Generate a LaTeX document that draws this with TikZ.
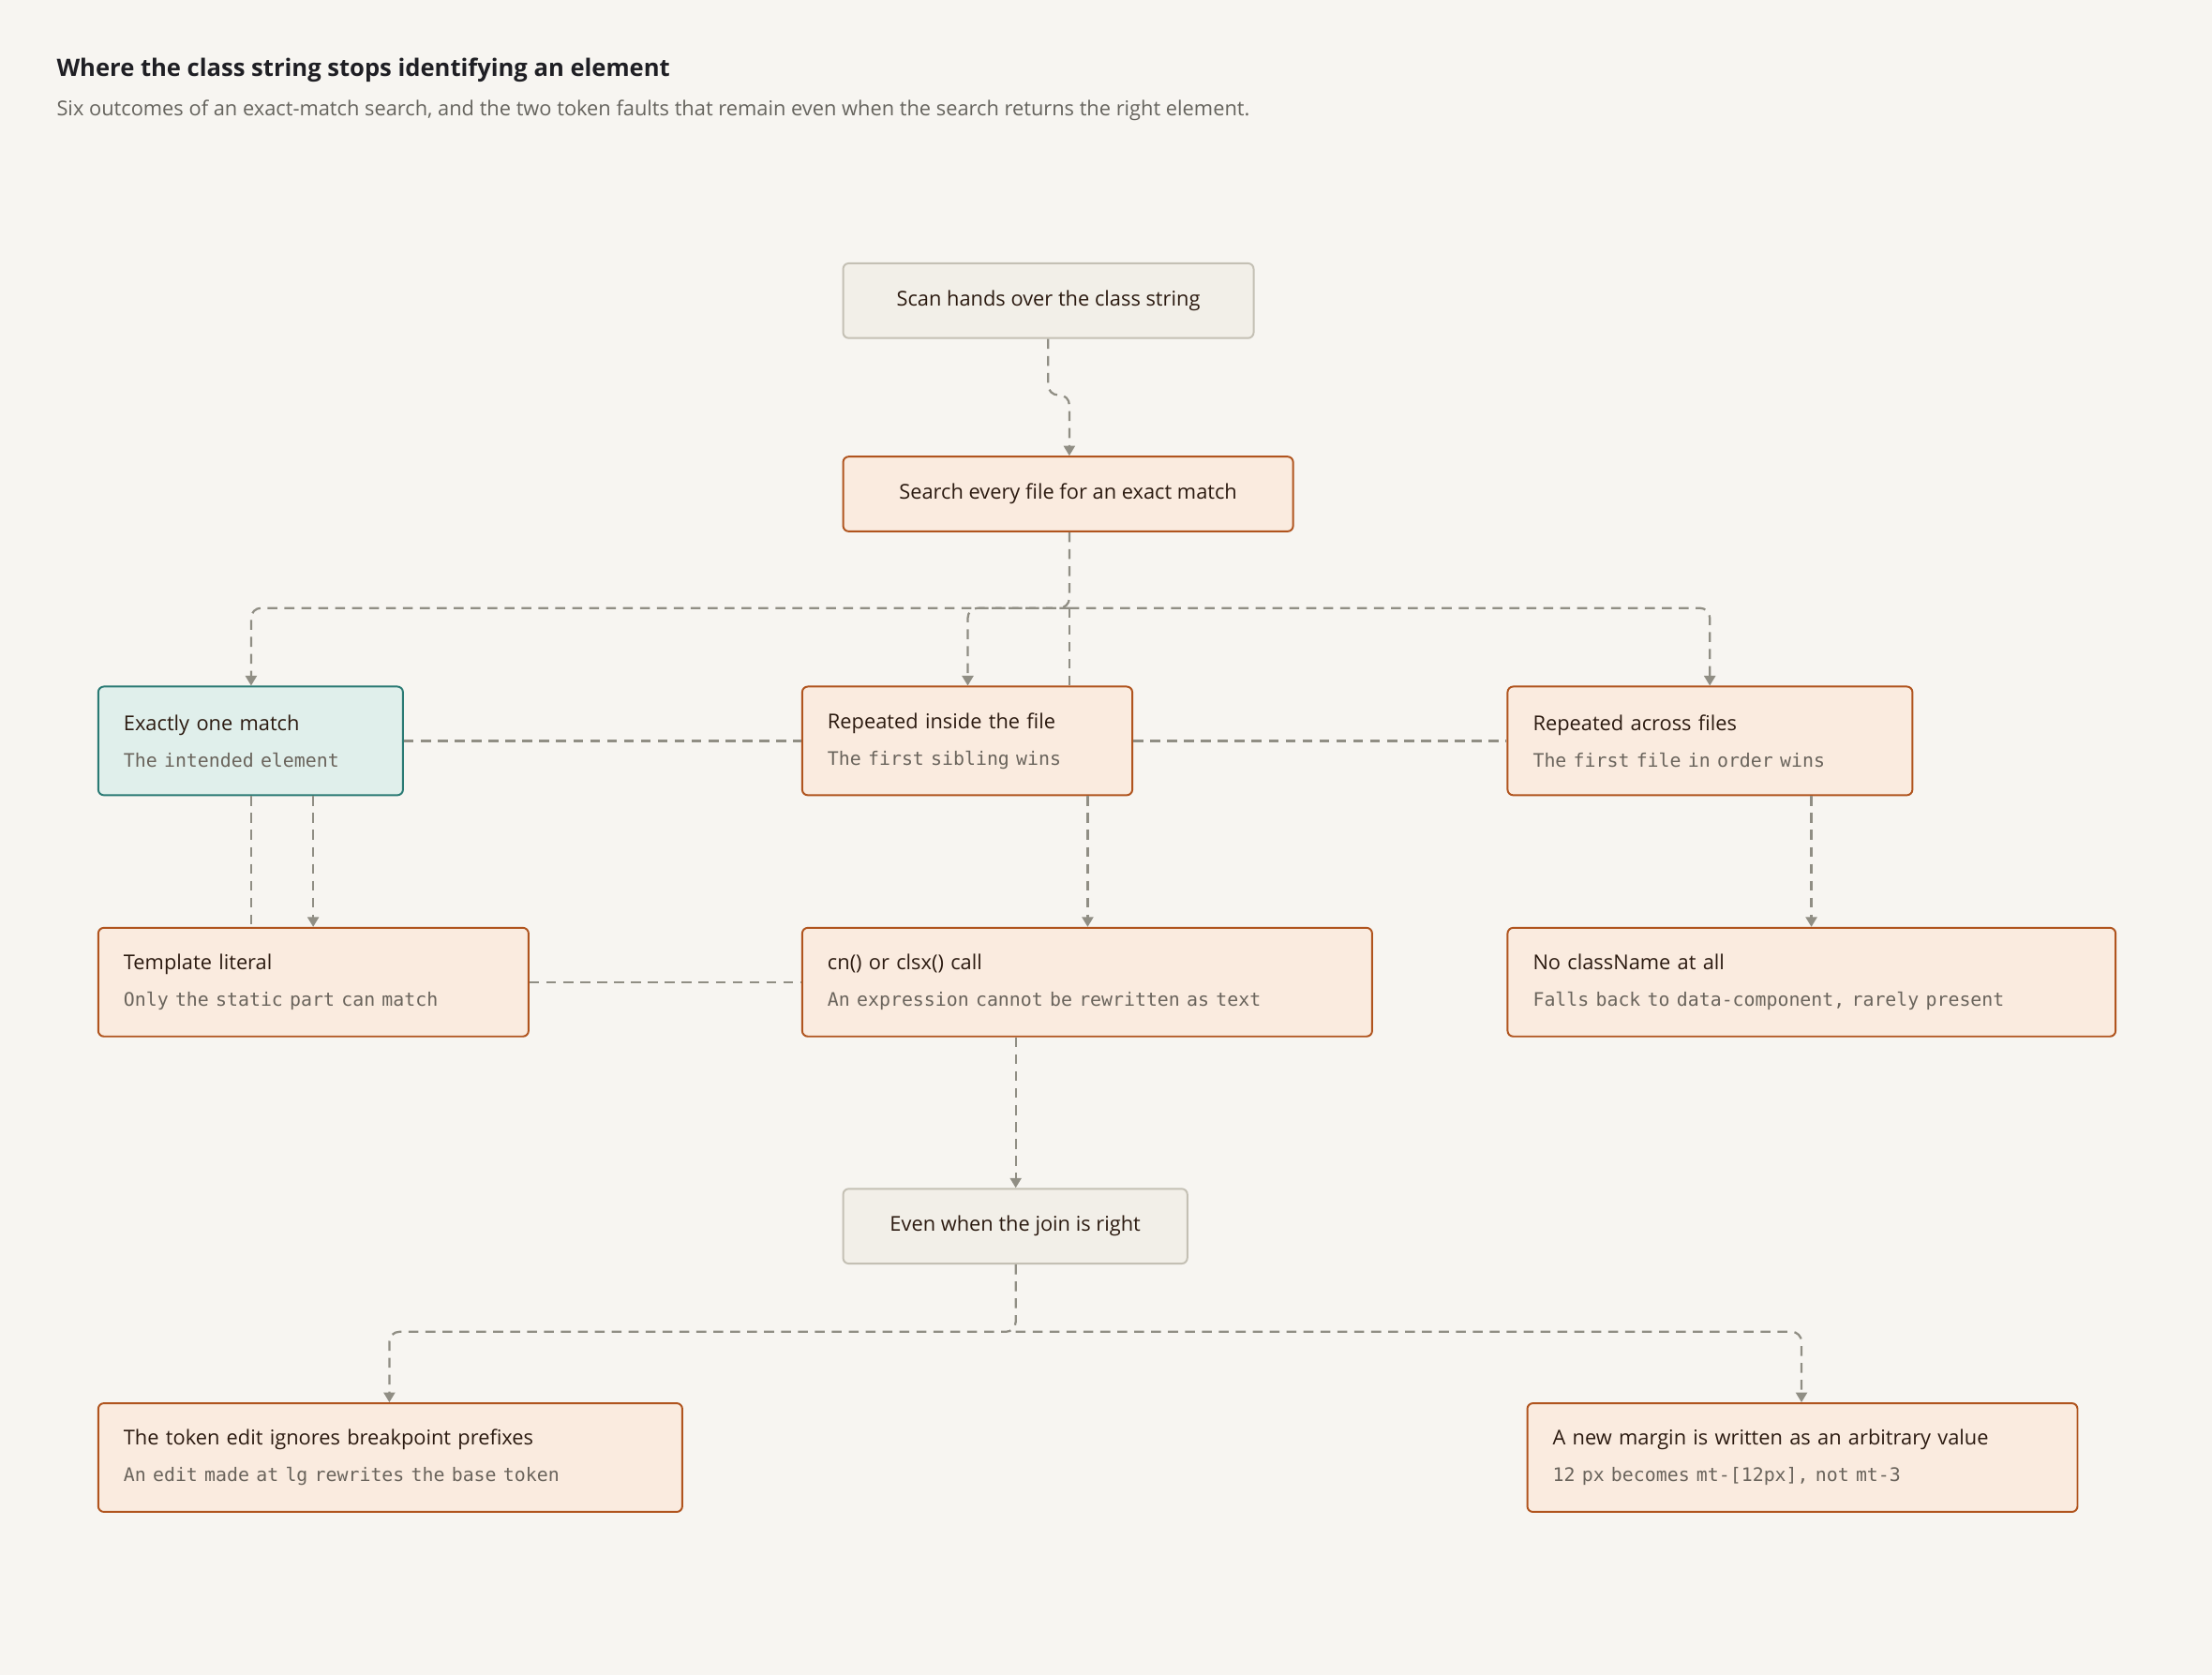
\documentclass[tikz,border=0pt]{standalone}
\usepackage{fontspec}
\setmainfont{Open Sans}
\newfontfamily\monof{DejaVu Sans Mono}
\usetikzlibrary{arrows.meta}
\definecolor{bg}{HTML}{F7F5F1}
\definecolor{grayfill}{HTML}{F2EFE8}
\definecolor{grayline}{HTML}{C4C0B4}
\definecolor{peach}{HTML}{FAEBDF}
\definecolor{brown}{HTML}{B0541E}
\definecolor{tealfill}{HTML}{E0EFEB}
\definecolor{teal}{HTML}{2A7A74}
\definecolor{conn}{HTML}{908E84}
\definecolor{titlec}{HTML}{1F1F24}
\definecolor{subc}{HTML}{66645E}
\definecolor{txt}{HTML}{2B1A10}
\definecolor{monoc}{HTML}{6A645C}
\tikzset{
  base/.style={draw, line width=1.3pt, rounded corners=4pt, anchor=north west, inner sep=0pt,
    font=\fontsize{14.5}{26}\selectfont, text=txt},
  gbox/.style={base, fill=grayfill, draw=grayline, minimum height=53pt},
  pbox/.style={base, fill=peach, draw=brown},
  tbox/.style={base, fill=tealfill, draw=teal},
  two/.style={minimum height=77pt, align=left, text width=#1, inner xsep=18pt},
  c/.style={draw=conn, line width=1.5pt, dash pattern=on 7pt off 5pt, rounded corners=7pt},
  ca/.style={c, -{Triangle[width=8pt,length=7pt]}},
}
\newcommand{\mn}[1]{{\monof\fontsize{13.2}{26}\selectfont\color{monoc}#1}}
\begin{document}
\begin{tikzpicture}[x=1pt,y=-1pt]
\fill[bg] (0,0) rectangle (1568,1187);
\useasboundingbox (0,0) rectangle (1568,1187);
\node[anchor=base west, font=\bfseries\fontsize{17}{20}\selectfont, text=titlec, inner sep=0] (title) at (40,54) {Where the class string stops identifying an element};
\node[anchor=base west, font=\fontsize{14.5}{18}\selectfont, text=subc, inner sep=0] (sub) at (40,82) {Six outcomes of an exact-match search, and the two token faults that remain even when the search returns the right element.};

\node[gbox, minimum width=291pt] (scan) at (597,186) {Scan hands over the class string};
\node[pbox, minimum width=319pt, minimum height=53pt] (search) at (597,323) {Search every file for an exact match};
\node[tbox, two=180pt] (one) at (69,486) {Exactly one match\\\mn{The intended element}};
\node[pbox, two=198pt] (rin) at (568,486) {Repeated inside the file\\\mn{The first sibling wins}};
\node[pbox, two=251pt] (racr) at (1068,486) {Repeated across files\\\mn{The first file in order wins}};
\node[pbox, two=269pt] (tpl) at (69,657) {Template literal\\\mn{Only the static part can match}};
\node[pbox, two=368pt] (cn) at (568,657) {cn() or clsx() call\\\mn{An expression cannot be rewritten as text}};
\node[pbox, two=395pt] (nocl) at (1068,657) {No className at all\\\mn{Falls back to data-component, rarely present}};
\node[gbox, minimum width=244pt] (even) at (597,842) {Even when the join is right};
\node[pbox, two=378pt] (tok) at (69,994) {The token edit ignores breakpoint prefixes\\\mn{An edit made at lg rewrites the base token}};
\node[pbox, two=354pt] (marg) at (1082,994) {A new margin is written as an arbitrary value\\\mn{12 px becomes mt-[12px], not mt-3}};

\draw[ca] (scan.south -| 743,0) -- (743,280) -- (758,280) -- (search.north -| 758,0);
\draw[ca] (search.south -| 758,0) -- (758,431) -- (178,431) -- (one.north -| 178,0);
\draw[ca] (758,431) -- (686,431) -- (rin.north -| 686,0);
\draw[ca] (758,431) -- (1212,431) -- (racr.north -| 1212,0);
\draw[c] (758,431) -- (rin.north -| 758,0);
\draw[c] (one.east) -- (rin.west);
\draw[c] (rin.east) -- (racr.west);
\draw[c] (one.south -| 178,0) -- (tpl.north -| 178,0);
\draw[ca] (one.south -| 222,0) -- (tpl.north -| 222,0);
\draw[c] (tpl.east) -- (cn.west);
\draw[ca] (rin.south -| 771,0) -- (cn.north -| 771,0);
\draw[ca] (racr.south -| 1284,0) -- (nocl.north -| 1284,0);
\draw[ca] (cn.south -| 720,0) -- (even.north -| 720,0);
\draw[ca] (even.south -| 720,0) -- (720,944) -- (276,944) -- (tok.north -| 276,0);
\draw[ca] (720,944) -- (1277,944) -- (marg.north -| 1277,0);
\end{tikzpicture}
\end{document}
